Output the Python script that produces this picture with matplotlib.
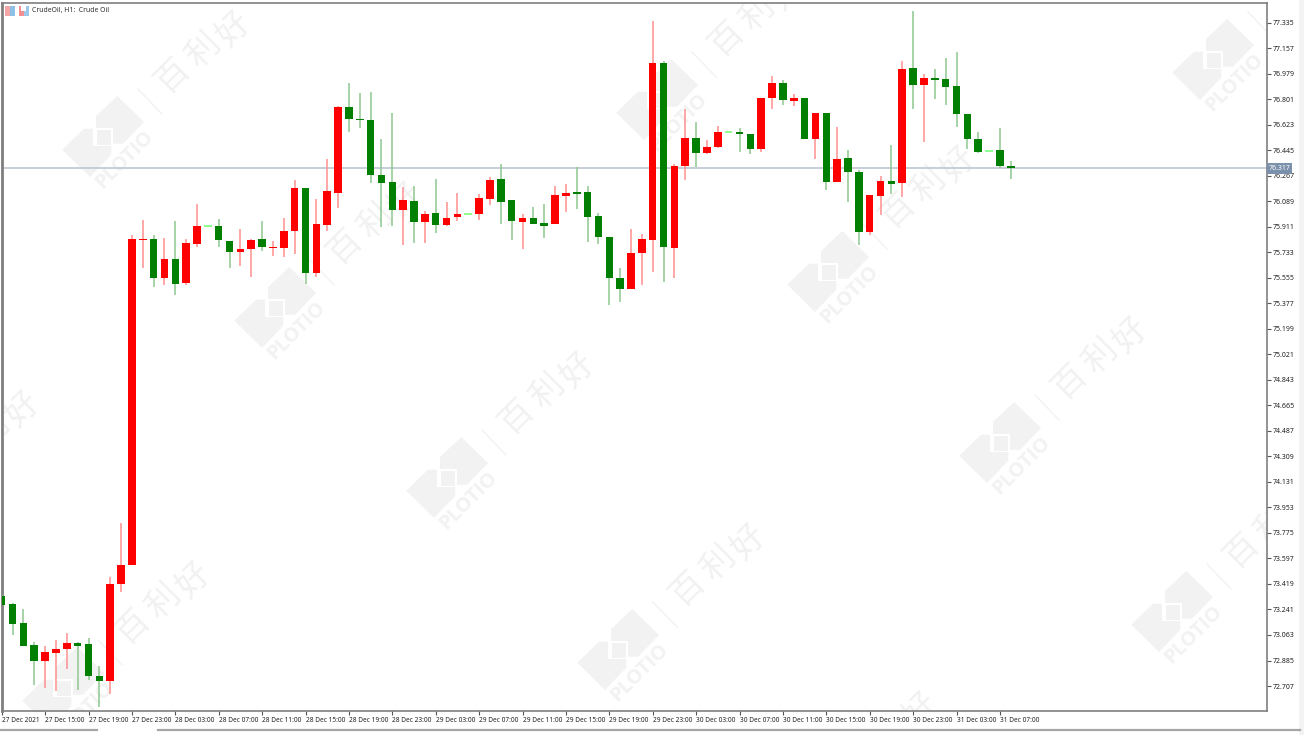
import numpy as np
import matplotlib
matplotlib.use("Agg")
import matplotlib.pyplot as plt
from matplotlib.patches import Polygon, Rectangle
from matplotlib.lines import Line2D

W, H = 1304, 735

# hourly bars; red = up (close above open), green = down, light green = unchanged
opens = [73.335,73.277,73.149,72.995,72.879,72.939,72.963,73.005,73.000,72.779,
         72.740,73.419,73.551,75.816,75.825,75.555,75.685,75.516,75.788,75.918,
         75.918,75.813,75.734,75.755,75.823,75.760,75.760,75.883,76.179,75.586,
         75.925,76.148,76.746,76.662,76.655,76.273,76.223,76.025,76.090,75.941,
         76.008,75.925,75.976,75.997,75.997,76.102,76.241,76.097,75.946,75.974,
         75.940,75.932,76.126,76.155,76.155,75.985,75.841,75.555,75.478,75.725,
         75.820,77.050,75.760,76.332,76.529,76.423,76.469,76.569,76.571,76.555,
         76.453,76.806,76.915,76.790,76.805,76.525,76.704,76.225,76.390,76.294,
         75.872,76.127,76.230,76.213,77.016,76.899,76.950,76.939,76.892,76.697,
         76.522,76.437,76.444,76.336]
closes = [73.272,73.140,72.988,72.879,72.944,72.967,73.005,72.988,72.775,72.740,
          73.421,73.553,75.825,75.825,75.555,75.685,75.511,75.797,75.918,75.918,
          75.818,75.734,75.757,75.818,75.767,75.771,75.884,76.184,75.586,75.932,
          76.162,76.746,76.664,76.653,76.269,76.218,76.025,76.097,75.941,76.001,
          75.925,75.974,75.997,75.997,76.113,76.234,76.085,75.953,75.974,75.932,
          75.918,76.130,76.148,76.139,75.981,75.841,75.551,75.478,75.725,75.825,
          77.050,75.767,76.336,76.529,76.423,76.469,76.571,76.569,76.557,76.453,
          76.806,76.911,76.796,76.806,76.522,76.704,76.225,76.383,76.290,75.872,
          76.130,76.230,76.209,77.011,76.901,76.948,76.934,76.883,76.697,76.520,
          76.434,76.437,76.336,76.318]
highs = [73.342,73.283,73.244,73.016,72.988,73.028,73.079,73.016,73.040,72.847,
         73.465,73.842,75.851,75.957,75.855,75.832,75.948,75.823,76.069,75.918,
         75.964,75.813,75.897,75.822,75.953,75.813,75.974,76.236,76.181,76.102,
         76.381,76.753,76.911,76.845,76.852,76.522,76.702,76.190,76.195,76.020,
         76.241,76.085,76.148,75.997,76.139,76.255,76.346,76.097,75.997,76.048,
         76.069,76.195,76.209,76.329,76.195,76.004,75.841,75.625,75.897,75.860,
         77.348,77.067,76.346,76.734,76.643,76.515,76.615,76.569,76.597,76.555,
         76.808,76.964,76.937,76.836,76.805,76.704,76.704,76.606,76.446,76.306,
         76.130,76.262,76.481,77.069,77.415,76.976,77.011,77.087,77.127,76.697,
         76.571,76.437,76.597,76.369]
lows = [73.272,73.063,72.986,72.714,72.691,72.674,72.824,72.679,72.749,72.559,
        72.651,73.365,73.551,75.621,75.492,75.504,75.434,75.504,75.767,75.918,
        75.771,75.621,75.637,75.562,75.743,75.709,75.702,75.720,75.509,75.562,
        75.881,76.039,76.573,76.597,76.213,75.911,75.916,75.783,75.795,75.799,
        75.865,75.919,75.953,75.997,75.957,76.062,75.930,75.818,75.753,75.930,
        75.830,75.930,76.015,76.032,75.806,75.788,75.365,75.388,75.478,75.504,
        75.597,75.527,75.555,76.236,76.329,76.416,76.460,76.569,76.430,76.416,
        76.434,76.734,76.762,76.755,76.522,76.381,76.165,76.225,76.085,75.781,
        75.853,75.992,76.139,76.120,76.734,76.504,76.801,76.762,76.608,76.451,
        76.427,76.437,76.318,76.246]

y_ticks = [77.335,77.157,76.979,76.801,76.623,76.445,76.267,76.089,75.911,75.733,
           75.555,75.377,75.199,75.021,74.843,74.665,74.487,74.309,74.131,73.953,
           73.775,73.597,73.419,73.241,73.063,72.885,72.707]
x_labels = ["27 Dec 2021","27 Dec 15:00","27 Dec 19:00","27 Dec 23:00",
            "28 Dec 03:00","28 Dec 07:00","28 Dec 11:00","28 Dec 15:00","28 Dec 19:00","28 Dec 23:00",
            "29 Dec 03:00","29 Dec 07:00","29 Dec 11:00","29 Dec 15:00","29 Dec 19:00","29 Dec 23:00",
            "30 Dec 03:00","30 Dec 07:00","30 Dec 11:00","30 Dec 15:00","30 Dec 19:00","30 Dec 23:00",
            "31 Dec 03:00","31 Dec 07:00"]
last_price = 76.317
title = "CrudeOil, H1:  Crude Oil"
wm_centres = [(103,137),(275,308),(447,478),(618,650),(-108,517),(63,688),
              (657,100),(828,272),(1000,443),(1172,612),(1213,60),(790,818)]

plt.rcParams['font.family'] = ['Noto Sans', 'DejaVu Sans']
fig = plt.figure(figsize=(W/100, H/100), dpi=100, facecolor='white')

L, R, T, B = 1.5, 1266.7, 3, 711
pos = [L/W, 1-B/H, (R-L)/W, (B-T)/H]

# watermark layer, addressed in picture pixels
wm = fig.add_axes(pos, zorder=1)
wm.set_xlim(L, R); wm.set_ylim(B, T); wm.axis('off')
WM = '#f2f2f2'
shape_a = [(14.3,-41),(41,-15),(20,6.7),(10,6.7),(10,-9),(-7,-9),(-7,-21)]
shape_b = [(-40.7,12.7),(-19,-8.3),(-10,-8.3),(-10,9),(8.3,9),(8.3,17.7),(-13,40)]
shape_c = [(-6.5,-7.5),(8,-7.5),(8,7.5),(-6.5,7.5)]
for cx, cy in wm_centres:
    for s in (shape_a, shape_b, shape_c):
        wm.add_patch(Polygon([(cx+a, cy+b) for a, b in s], closed=True, fc=WM, ec='none'))
    wm.plot([cx+35, cx+59], [cy-48, cy-23], color=WM, lw=1)
    wm.text(cx+22, cy+23, "PLOTIO", rotation=45, rotation_mode='anchor', ha='center', va='center',
            fontsize=14.5, fontweight='bold', color=WM, family='Open Sans', clip_on=True)
    for ch, (dx, dy) in zip("百利好", [(70,-62),(100,-87),(130,-108)]):
        wm.text(cx+dx, cy+dy, ch, rotation=45, rotation_mode='anchor', ha='center', va='center',
                fontsize=24, color='#f1f1f1', family='Noto Sans CJK SC', clip_on=True)

ax = fig.add_axes(pos, zorder=2)
ax.patch.set_alpha(0)
x0, dx = 1.7, 10.85
ax.set_xlim((L-x0)/dx, (R-x0)/dx)
ax.set_ylim(77.492-0.006975*B, 77.492-0.006975*T)

o, c, hi, lo = map(np.array, (opens, closes, highs, lows))
idx = np.arange(len(o))
up = c > o
down = c < o
flat = c == o
ax.vlines(idx[up], lo[up], hi[up], color='#ff9090', lw=1.1, zorder=3)
ax.vlines(idx[down], lo[down], hi[down], color='#8fc68f', lw=1.1, zorder=3)
ax.bar(idx[up], (c-o)[up], bottom=o[up], width=0.7, color='#ff0000', zorder=4, lw=0)
ax.bar(idx[down], (o-c)[down], bottom=c[down], width=0.7, color='#007f00', zorder=4, lw=0)
ax.hlines(c[flat], idx[flat]-0.35, idx[flat]+0.35, color='#7dff7d', lw=1.2, zorder=4)

ax.axhline(last_price, color='#c6cedb', lw=1.4, zorder=2)

ax.yaxis.tick_right()
ax.set_yticks(y_ticks)
ax.set_yticklabels([f"{v:.3f}" for v in y_ticks])
ax.set_xticks(np.arange(len(x_labels))*4)
ax.set_xticklabels(x_labels, ha='left')
ax.tick_params(axis='y', length=3, width=0.8, color='#555555', pad=1, labelsize=5, labelcolor='#222222')
ax.tick_params(axis='x', length=3, width=0.8, color='#555555', pad=1.5, labelsize=4.7, labelcolor='#222222')
for s in ax.spines.values():
    s.set_color('#7f7f7f'); s.set_linewidth(1.2)
ax.spines['left'].set_linewidth(2)

ax.text((1279.5-L)/(R-L), last_price, f"{last_price:.3f}",
        transform=ax.get_yaxis_transform(), ha='center', va='center', fontsize=5, color='white',
        clip_on=False, zorder=6, bbox=dict(boxstyle='square,pad=0.25', fc='#7b90ab', ec='none'))

# window chrome and header, in picture pixels
def px_rect(x, y, w, h, **kw):
    fig.add_artist(Rectangle((x/W, 1-(y+h)/H), w/W, h/H, transform=fig.transFigure, zorder=5, **kw))

px_rect(4.5, 6.5, 5, 9, fc='#f4a6a6', ec='none')
px_rect(9.5, 6.5, 5, 9, fc='#8fc0e6', ec='none')
px_rect(18.5, 6.5, 5, 9, fc='#f58f8f', ec='none')
px_rect(23.5, 6.5, 5, 9, fc='#9cc8ea', ec='none')
px_rect(21, 6.5, 5, 4, fc='white', ec='none')
fig.text(32/W, 1-10.5/H, title, fontsize=5, color='#333333', va='center', ha='left', zorder=6)

px_rect(1299, 0, 5, 735, fc='#f3f3f3', ec='none')
for a, b in [(0, 97), (158, 1300)]:
    fig.add_artist(Line2D([a/W, b/W], [1-730/H, 1-730/H], color='#a6a6a6', lw=1.6, transform=fig.transFigure, zorder=6))

fig.savefig('out.png', dpi=100)
